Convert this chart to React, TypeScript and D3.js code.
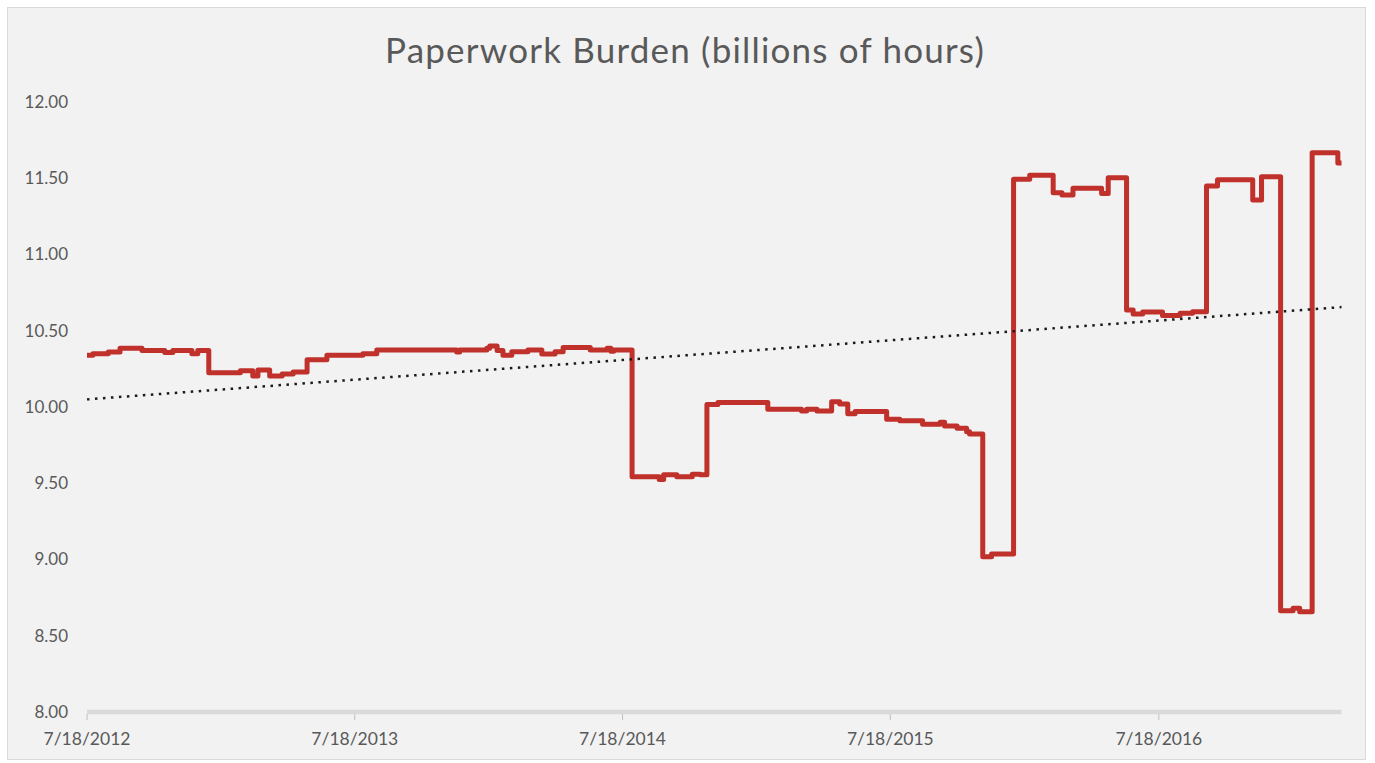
import * as d3 from "d3";

// step points of the series (date, billions of hours)
const dates = [
  "2012-07-18", "2012-07-26", "2012-08-16", "2012-09-01", "2012-10-01", "2012-11-01",
  "2012-11-12", "2012-12-08", "2012-12-16", "2012-12-31", "2013-02-12", "2013-03-01",
  "2013-03-08", "2013-03-24", "2013-04-10", "2013-04-25", "2013-05-14", "2013-06-10",
  "2013-07-29", "2013-08-17", "2013-12-04", "2013-12-08", "2014-01-14", "2014-01-18",
  "2014-01-28", "2014-02-05", "2014-02-17", "2014-03-11", "2014-03-30", "2014-04-17",
  "2014-04-28", "2014-06-04", "2014-06-27", "2014-07-02", "2014-07-06", "2014-07-31",
  "2014-09-06", "2014-09-12", "2014-09-30", "2014-10-21", "2014-11-01", "2014-11-10",
  "2014-11-25", "2015-02-01", "2015-03-19", "2015-03-26", "2015-04-09", "2015-04-29",
  "2015-05-10", "2015-05-21", "2015-05-31", "2015-07-13", "2015-07-31", "2015-08-31",
  "2015-09-24", "2015-09-30", "2015-10-17", "2015-10-30", "2015-11-03", "2015-11-21",
  "2015-12-03", "2016-01-02", "2016-01-24", "2016-02-25", "2016-03-08", "2016-03-23",
  "2016-05-01", "2016-05-10", "2016-06-04", "2016-06-13", "2016-06-26", "2016-07-23",
  "2016-08-16", "2016-09-02", "2016-09-21", "2016-10-06", "2016-11-23", "2016-12-05",
  "2016-12-31", "2017-01-17", "2017-01-26", "2017-02-12", "2017-03-19", "2017-03-24",
];

const burden = [
  10.34, 10.35, 10.36, 10.385, 10.37, 10.357,
  10.37, 10.35, 10.37, 10.225, 10.238, 10.203,
  10.243, 10.203, 10.216, 10.23, 10.31, 10.34,
  10.35, 10.374, 10.36, 10.374, 10.385, 10.4,
  10.37, 10.34, 10.363, 10.374, 10.348, 10.363,
  10.39, 10.374, 10.385, 10.365, 10.374, 9.543,
  9.525, 9.555, 9.543, 9.559, 9.555, 10.017,
  10.03, 9.985, 9.974, 9.985, 9.974, 10.035,
  10.02, 9.955, 9.97, 9.92, 9.91, 9.887,
  9.9, 9.875, 9.86, 9.838, 9.823, 9.018,
  9.036, 11.493, 11.52, 11.405, 11.39, 11.434,
  11.4, 11.504, 10.636, 10.61, 10.623, 10.6,
  10.614, 10.625, 11.45, 11.49, 11.357, 11.51,
  8.664, 8.68, 8.658, 11.668, 11.6, 11.6,
];

// linear trendline, start and end values
const trendValues = [10.05, 10.655];

const yTicks = [8, 8.5, 9, 9.5, 10, 10.5, 11, 11.5, 12];
const xTickDates = ["2012-07-18", "2013-07-18", "2014-07-18", "2015-07-18", "2016-07-18"];

const W = 1375;
const H = 763;
const FONT = "Lato, 'Open Sans', sans-serif";
const TEXT = "#595959";

const parse = d3.utcParse("%Y-%m-%d");
const fmt = d3.utcFormat("%-m/%-d/%Y");

export default function App() {
  const pts = dates.map((d, i) => ({ date: parse(d)!, v: burden[i] }));

  const x = d3
    .scaleUtc()
    .domain([pts[0].date, pts[pts.length - 1].date])
    .range([87, 1341.5]);
  const y = d3.scaleLinear().domain([8, 12]).range([712, 102]);

  const line = d3
    .line<{ date: Date; v: number }>()
    .x((d) => x(d.date))
    .y((d) => y(d.v))
    .curve(d3.curveStepAfter);

  const trend = d3
    .line<number>()
    .x((_, i) => x(i === 0 ? pts[0].date : pts[pts.length - 1].date))
    .y((d) => y(d));

  return (
    <svg
      width={W}
      height={H}
      style={{ position: "absolute", left: 0, top: 0, background: "#ffffff" }}
    >
      <rect x={7.5} y={7.5} width={1358} height={752} fill="#f2f2f2" stroke="#d9d9d9" strokeWidth={1} />

      <text
        x={685}
        y={63}
        textAnchor="middle"
        fontFamily={FONT}
        fontSize={35}
        letterSpacing={1.2}
        fill={TEXT}
      >
        Paperwork Burden (billions of hours)
      </text>

      {yTicks.map((t) => (
        <text
          key={t}
          x={68}
          y={y(t)}
          dy="0.35em"
          textAnchor="end"
          fontFamily={FONT}
          fontSize={17}
          fill={TEXT}
        >
          {t.toFixed(2)}
        </text>
      ))}

      <line x1={x.range()[0]} x2={x.range()[1]} y1={y(8)} y2={y(8)} stroke="#d9d9d9" strokeWidth={4.5} />
      {xTickDates.map((d) => {
        const dt = parse(d)!;
        return (
          <g key={d} transform={`translate(${x(dt)},0)`}>
            <line y1={y(8) + 2} y2={y(8) + 8} stroke="#bfbfbf" strokeWidth={1} />
            <text
              y={739}
              dy="0.35em"
              textAnchor="middle"
              fontFamily={FONT}
              fontSize={17.5}
              fill={TEXT}
            >
              {fmt(dt)}
            </text>
          </g>
        );
      })}

      <path
        d={line(pts) ?? ""}
        fill="none"
        stroke="#c0312b"
        strokeWidth={5}
        strokeLinejoin="round"
      />
      <path
        d={trend(trendValues) ?? ""}
        fill="none"
        stroke="#1a1a1a"
        strokeWidth={2.5}
        strokeDasharray="2.5 5.5"
      />
    </svg>
  );
}
